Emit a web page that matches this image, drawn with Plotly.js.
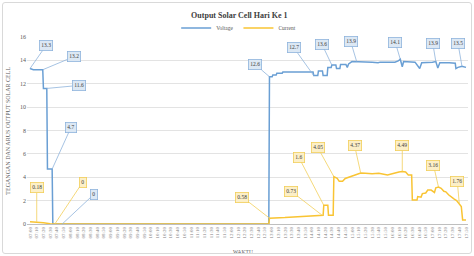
<!DOCTYPE html>
<html>
<head>
<meta charset="utf-8">
<script src="https://cdn.plot.ly/plotly-3.0.1.min.js"></script>
<style>
  html, body { margin: 0; padding: 0; background: #ffffff; }
  #chart { width: 474px; height: 256px; position: relative; }
  #frame { position: absolute; left: 2px; top: 2px; width: 468px; height: 250px;
           border: 1px solid #d9d9d9; border-radius: 3px; pointer-events: none; }
</style>
</head>
<body>
<div id="chart"></div>
<div id="frame"></div>
<script>
// ---- data ----
const day = "2024-01-01 ";

const voltageTimes = ["07:00","07:05","07:19","07:20","07:25","07:26","07:33","07:34","07:48","12:56",
  "12:57","13:01","13:02","13:07","13:08","13:16","13:17","14:02","14:03","14:09",
  "14:10","14:16","14:17","14:23","14:24","14:29","14:30","14:36","14:37","14:42",
  "14:43","14:51","14:53","14:55","15:00","15:07","15:30","15:39","15:42","16:04",
  "16:09","16:12","16:15","16:17","16:34","16:41","16:44","17:00","17:05","17:08",
  "17:11","17:25","17:34","17:35","17:38","17:44","17:50"];
const voltage = [13.3,13.2,13.2,11.6,11.6,4.7,4.7,0,0,0,
  12.6,12.6,12.75,12.75,12.9,12.9,13.0,13.0,12.7,12.7,
  13.1,13.1,12.7,12.7,13.4,13.4,13.6,13.6,13.3,13.3,
  13.65,13.65,13.4,13.7,13.9,13.9,13.85,13.8,13.85,13.85,
  13.95,14.1,13.45,13.9,13.85,13.3,13.8,13.85,13.9,13.35,
  13.8,13.8,13.75,13.3,13.4,13.5,13.4];

const currentTimes = ["07:00","07:10","07:20","07:30","07:37","12:56","12:57","13:20","13:40","14:05",
  "14:16","14:17","14:18","14:24","14:25","14:32","14:33","14:38","14:41","14:46",
  "14:50","14:55","15:00","15:06","15:10","15:13","15:20","15:30","15:40","15:48",
  "15:53","16:00","16:05","16:10","16:15","16:20","16:24","16:29","16:30","16:37",
  "16:38","16:43","16:45","16:50","16:53","16:58","17:03","17:05","17:09","17:13",
  "17:17","17:20","17:24","17:28","17:32","17:36","17:40","17:43","17:45","17:50"];
const current = [0.2,0.18,0.1,0.03,0,0,0.5,0.55,0.6,0.7,
  0.73,0.75,1.6,1.6,0.75,0.75,4.05,3.9,3.65,3.65,
  3.9,4.0,4.15,4.25,4.3,4.37,4.35,4.3,4.35,4.25,
  4.2,4.3,4.4,4.45,4.49,4.45,4.2,4.2,2.05,2.05,
  2.35,2.3,2.6,2.65,2.9,2.9,2.7,3.1,3.16,3.05,
  2.8,2.75,2.5,2.3,2.15,2.0,1.76,1.5,0.35,0.35];

// data labels (point time + text as printed)
const voltLabelTimes = ["07:00","07:19","07:25","07:33","07:48","12:57","14:03","14:30","15:07","16:12","17:05","17:44"];
const voltLabelTexts = ["13.3","13.2","11.6","4.7","0","12.6","12.7","13.6","13.9","14.1","13.9","13.5"];
const currLabelTimes = ["07:10","07:37","12:57","14:16","14:18","14:33","15:13","16:15","17:09","17:40"];
const currLabelTexts = ["0.18","0","0.58","0.73","1.6","4.05","4.37","4.49","3.16","1.76"];

// ---- label box offsets (layout, pixels) ----
const voltOffsets = [[16,-23],[31,-13],[32,-3],[19,-42],[32,-30],[-14,-12],[-20,-28],[-10,-21],[-6,-20],[-5,-17],[-3,-18],[-4,-23]];
const currOffsets = [[0,-34],[28,-42],[-27,-21],[-31,-24],[-25,-48],[-16,-29],[-6,-27],[0,-26],[-5,-22],[-2,-22]];

const BLUE = "#6A9FD4", GOLD = "#F9C433";
const FONT = "Liberation Serif, Times New Roman, serif";
const toDate = t => day + t;

function makeLabels(times, texts, offsets, xs, ys, color, fill) {
  return times.map((t, k) => {
    const i = xs.indexOf(t);
    return {
      x: toDate(xs[i]), y: ys[i], xref: "x", yref: "y",
      text: texts[k], showarrow: true, arrowhead: 0, arrowwidth: 0.8, arrowcolor: color,
      ax: offsets[k][0], ay: offsets[k][1],
      font: {family: FONT, size: 5.5, color: "#404040"},
      bgcolor: fill, bordercolor: color, borderwidth: 0.8, borderpad: 1.5
    };
  });
}

const traces = [
  {x: voltageTimes.map(toDate), y: voltage, type: "scatter", mode: "lines", name: "Voltage",
   line: {color: BLUE, width: 1.5}},
  {x: currentTimes.map(toDate), y: current, type: "scatter", mode: "lines", name: "Current",
   line: {color: GOLD, width: 1.5}}
];

const annotations = [
  ...makeLabels(voltLabelTimes, voltLabelTexts, voltOffsets, voltageTimes, voltage, "#8FB4DC", "#DCE8F4"),
  ...makeLabels(currLabelTimes, currLabelTexts, currOffsets, currentTimes, current, "#F2CF5B", "#FCEFC7"),
  {text: "TEGANGAN DAN ARUS OUTPUT SOLAR CELL", xref: "paper", yref: "paper", x: -0.045, y: 0.5,
   textangle: -90, showarrow: false, xanchor: "center", yanchor: "middle",
   font: {family: FONT, size: 6, color: "#595959"}},
  {text: "WAKTU", xref: "paper", yref: "paper", x: 0.49, y: -0.152, showarrow: false,
   xanchor: "center", yanchor: "middle", font: {family: FONT, size: 5.5, color: "#595959"}}
];

const layout = {
  width: 474, height: 256,
  margin: {l: 27, r: 6, t: 37, b: 32},
  paper_bgcolor: "#ffffff", plot_bgcolor: "#ffffff",
  font: {family: FONT, color: "#595959"},
  title: {text: "<b>Output Solar Cell Hari Ke 1</b>", xref: "container", yref: "container",
          x: 0.505, y: 0.94, xanchor: "center", yanchor: "middle",
          font: {family: FONT, size: 8, color: "#404040"}},
  showlegend: true,
  legend: {orientation: "h", x: 0.48, xanchor: "center", y: 1.048, yanchor: "middle",
           font: {family: FONT, size: 5.5, color: "#595959"}, itemwidth: 30, bgcolor: "rgba(0,0,0,0)",
           tracegroupgap: 0},
  xaxis: {type: "date", range: [day + "06:55:30", day + "17:53:00"],
          tickmode: "linear", tick0: day + "07:00", dtick: 600000, tickformat: "%H:%M",
          tickangle: -90, tickfont: {family: FONT, size: 5, color: "#7f7f7f"},
          showgrid: false, showline: true, linecolor: "#BFBFBF", linewidth: 1,
          ticks: "", zeroline: false, automargin: false, fixedrange: true},
  yaxis: {range: [0, 16], dtick: 2, tickfont: {family: FONT, size: 6, color: "#595959"},
          showgrid: true, gridcolor: "#E3E3E3", gridwidth: 1, zeroline: false,
          showline: false, ticks: "", automargin: false, fixedrange: true},
  annotations: annotations
};

Plotly.newPlot("chart", traces, layout, {staticPlot: true, displayModeBar: false});
</script>
</body>
</html>
